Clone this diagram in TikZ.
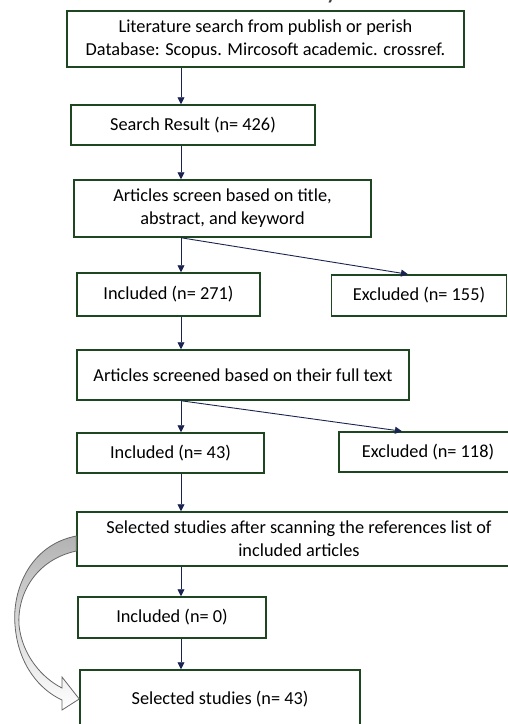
\documentclass[tikz,border=0pt]{standalone}
\usepackage{fontspec}
\setmainfont{Carlito}
\usetikzlibrary{positioning,arrows.meta,calc}

\definecolor{boxgreen}{HTML}{1E4620}
\definecolor{arrownavy}{HTML}{1B2350}

\begin{document}
\begin{tikzpicture}[
    x=1pt, y=-1pt,
    >={Triangle[length=7pt,width=7pt]},
    every node/.style={font=\fontsize{18.3}{23}\selectfont},
    box/.style={draw=boxgreen, line width=1.5pt, inner sep=0pt, align=center},
    link/.style={->, draw=arrownavy, line width=0.9pt}
]

\useasboundingbox (0,0) rectangle (508,724);
\clip (0,0) rectangle (508,724);

% title, mostly cut off at the top edge
\node[anchor=base east, font=\fontsize{28}{28}\selectfont, text=black!75] (title) at (342,-1.5) {Search and Selection Summary};

\node[box, minimum width=397pt, minimum height=56pt] (lit) at (265.5,39)
    {Literature search from publish or perish\\Database: Scopus. Mircosoft academic. crossref.};

\node[box, minimum width=244pt, minimum height=40pt] (res) at (193,125) {Search Result (n= 426)};

\node[box, minimum width=297pt, minimum height=57pt] (scr) at (222.5,208.5)
    {Articles screen based on title,\\abstract, and keyword};

\node[box, minimum width=183pt, minimum height=43pt] (inc1) at (168.5,294.5) {Included (n= 271)};
\node[box, minimum width=175pt, minimum height=41pt] (exc1) at (419,295.5) {Excluded (n= 155)};

\node[box, minimum width=332pt, minimum height=50pt] (full) at (243,375)
    {Articles screened based on their full text};

\node[box, minimum width=187pt, minimum height=40pt] (inc2) at (170.5,453) {Included (n= 43)};
\node[box, minimum width=178pt, minimum height=40pt] (exc2) at (428,452) {Excluded (n= 118)};

\node[box, minimum width=444pt, minimum height=54pt] (sel) at (299,539)
    {Selected studies after scanning the references list of\\included articles};

\node[box, minimum width=188pt, minimum height=41pt] (inc3) at (172,617.5) {Included (n= 0)};

\node[box, minimum width=280pt, minimum height=58pt] (fin) at (220,699) {Selected studies (n= 43)};

\coordinate (spine) at (181,0);

\draw[link] (lit.south -| spine) -- (res.north -| spine);
\draw[link] (res.south -| spine) -- (scr.north -| spine);

\draw[link] (scr.south -| spine) -- (inc1.north -| spine);
\draw[link] (scr.south -| spine) -- ([xshift=-11pt]exc1.north);

\draw[link] (inc1.south -| spine) -- (full.north -| spine);

\draw[link] (full.south -| spine) -- (inc2.north -| spine);
\draw[link] (full.south -| spine) -- ([xshift=-26pt]exc2.north);

\draw[link] (inc2.south -| spine) -- (sel.north -| spine);
\draw[link] (sel.south -| spine) -- (inc3.north -| spine);
\draw[link] (inc3.south -| spine) -- (fin.north -| spine);

% curved block arrow from sel to fin
\draw[draw=black!60, line width=0.8pt, top color=black!30, bottom color=white, shading angle=0]
    ($(sel.west)+(0,-3)$) .. controls (30,545) and (12,590) .. (15,625)
    .. controls (18,665) and (40,690) .. (62,700) -- (62,710) -- (fin.west)
    -- (62,677) -- (62,688)
    .. controls (42,678) and (22,655) .. (19,625)
    .. controls (17,595) and (35,560) .. ($(sel.west)+(0,12)$) -- cycle;

\end{tikzpicture}
\end{document}
